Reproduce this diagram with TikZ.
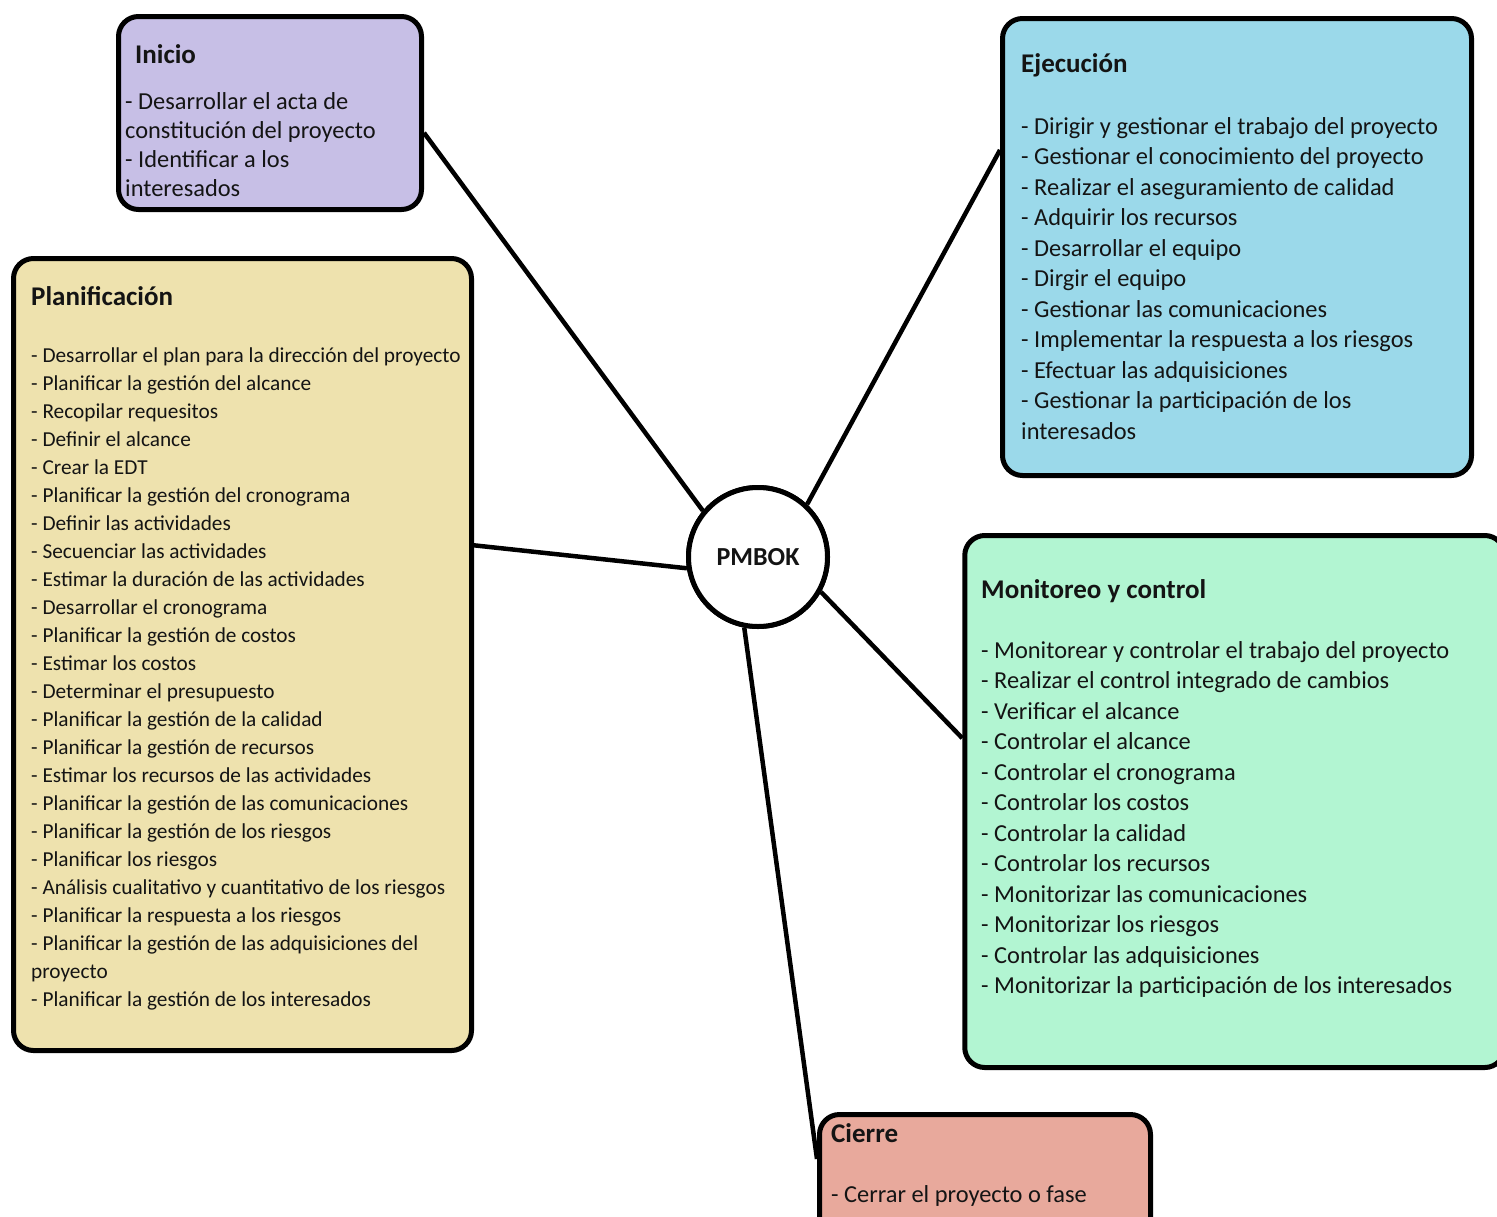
\documentclass[tikz,border=0pt]{standalone}
\usepackage{fontspec}
\setmainfont{Carlito}
\usetikzlibrary{calc}
\definecolor{cIni}{RGB}{199,191,230}
\definecolor{cPla}{RGB}{238,226,174}
\definecolor{cEje}{RGB}{155,217,234}
\definecolor{cMon}{RGB}{178,245,210}
\definecolor{cCie}{RGB}{232,169,156}
\definecolor{cTxt}{RGB}{20,20,20}
\begin{document}
\begin{tikzpicture}[x=1pt,y=-1pt,
  box/.style={draw=black, line width=5pt, rounded corners=20pt, inner sep=0pt},
  hub/.style={circle, draw=black, fill=white, line width=5pt, minimum size=139pt, inner sep=0pt, font=\fontsize{26}{30}\selectfont\bfseries, text=cTxt},
  ttl/.style={anchor=base west, inner sep=0pt, text=cTxt, font=\fontsize{27}{32}\selectfont\bfseries},
  itm/.style={anchor=base west, inner sep=0pt, text=cTxt, font=\fontsize{24.4}{30}\selectfont},
  itms/.style={anchor=base west, inner sep=0pt, text=cTxt, font=\fontsize{21.3}{28}\selectfont},
  link/.style={draw=black, line width=4.5pt}]
\useasboundingbox (0,0) rectangle (1497,1216);
\clip (0,0) rectangle (1497,1216);

% boxes (positions only, drawn first for anchors)
\node[box, fill=cIni, minimum width=303pt, minimum height=193pt] (ini) at (270,113) {};
\node[box, fill=cPla, minimum width=458pt, minimum height=792pt] (pla) at (242.5,654.5) {};
\node[box, fill=cEje, minimum width=469pt, minimum height=457pt] (eje) at (1237,247) {};
\node[box, fill=cMon, minimum width=540pt, minimum height=532pt] (mon) at (1234.75,801.5) {};
\node[box, fill=cCie, minimum width=331pt, minimum height=125.5pt] (cie) at (985,1177.25) {};

% connectors
\coordinate (hubc) at (758,557);
\path (hubc) node[hub] (pm) {};
\draw[link] ($(ini.north east)!0.6!(ini.south east)$) -- (pm.140.5);
\draw[link] ($(eje.north west)!0.29!(eje.south west)$) -- (pm.47.7);
\draw[link] ($(pla.north east)!0.363!(pla.south east)$) -- (pm.189);
\draw[link] ($(mon.north west)!0.382!(mon.south west)$) -- (pm.331);
\draw[link] ($(cie.north west)!0.36!(cie.south west)$) -- (pm.259);
\node[hub] (pmb) at (hubc) {PMBOK};

% Inicio
\node[ttl] (iniT) at (135,63) {Inicio};
\foreach \t [count=\i] in {- Desarrollar el acta de, constitución del proyecto, - Identificar a los, interesados}
  \node[itm] (ini\i) at (125,{80+29.2*\i}) {\t};

% Planificacion
\node[ttl] (plaT) at (31,305) {Planificación};
\foreach \t [count=\i] in {
 - Desarrollar el plan para la dirección del proyecto,
 - Planificar la gestión del alcance,
 - Recopilar requesitos,
 - Definir el alcance,
 - Crear la EDT,
 - Planificar la gestión del cronograma,
 - Definir las actividades,
 - Secuenciar las actividades,
 - Estimar la duración de las actividades,
 - Desarrollar el cronograma,
 - Planificar la gestión de costos,
 - Estimar los costos,
 - Determinar el presupuesto,
 - Planificar la gestión de la calidad,
 - Planificar la gestión de recursos,
 - Estimar los recursos de las actividades,
 - Planificar la gestión de las comunicaciones,
 - Planificar la gestión de los riesgos,
 - Planificar los riesgos,
 - Análisis cualitativo y cuantitativo de los riesgos,
 - Planificar la respuesta a los riesgos,
 - Planificar la gestión de las adquisiciones del,
 proyecto,
 - Planificar la gestión de los interesados}
  \node[itms] (pla\i) at (31,{334+28*\i}) {\t};

% Ejecucion
\node[ttl] (ejeT) at (1021,72) {Ejecución};
\foreach \t [count=\i] in {
 - Dirigir y gestionar el trabajo del proyecto,
 - Gestionar el conocimiento del proyecto,
 - Realizar el aseguramiento de calidad,
 - Adquirir los recursos,
 - Desarrollar el equipo,
 - Dirgir el equipo,
 - Gestionar las comunicaciones,
 - Implementar la respuesta a los riesgos,
 - Efectuar las adquisiciones,
 - Gestionar la participación de los,
 interesados}
  \node[itm] (eje\i) at (1021,{103.5+30.5*\i}) {\t};

% Monitoreo y control
\node[ttl] (monT) at (981,598) {Monitoreo y control};
\foreach \t [count=\i] in {
 - Monitorear y controlar el trabajo del proyecto,
 - Realizar el control integrado de cambios,
 - Verificar el alcance,
 - Controlar el alcance,
 - Controlar el cronograma,
 - Controlar los costos,
 - Controlar la calidad,
 - Controlar los recursos,
 - Monitorizar las comunicaciones,
 - Monitorizar los riesgos,
 - Controlar las adquisiciones,
 - Monitorizar la participación de los interesados}
  \node[itm] (mon\i) at (981,{627.5+30.5*\i}) {\t};

% Cierre
\node[ttl] (cieT) at (831,1142) {Cierre};
\node[itm] (cie1) at (831,1202) {- Cerrar el proyecto o fase};
\end{tikzpicture}
\end{document}
